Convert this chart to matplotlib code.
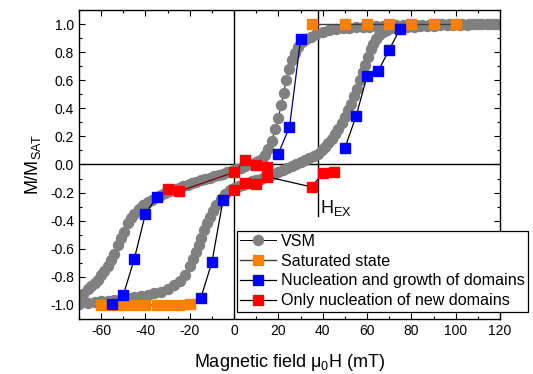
import matplotlib
matplotlib.use("Agg")
from matplotlib import pyplot as plt
from matplotlib.ticker import MultipleLocator

plt.rcParams['font.family'] = ['Liberation Sans', 'DejaVu Sans']
plt.rcParams['mathtext.fontset'] = 'custom'
plt.rcParams['mathtext.rm'] = 'Liberation Sans'
plt.rcParams['mathtext.it'] = 'Liberation Sans:italic'
plt.rcParams['axes.unicode_minus'] = False

# VSM loop, ascending branch (field swept from negative to positive)
vsm_up_x = [-70, -68, -66, -64.5, -63, -61.5, -60, -58.5, -57, -55.5, -54, -52.5, -51,
            -49.5, -48, -46.5, -45, -43, -41, -39, -37, -35, -33, -31, -29, -27, -25,
            -23, -21, -19, -17, -15, -13, -11, -9, -7, -5, -3, -1, 1, 3, 5, 7, 9, 11,
            12.5, 14, 15.5, 17, 18.5, 20, 21.2, 22.3, 23.6, 25, 26.3, 27.6, 29, 30.6,
            32.5, 34.5, 37, 40, 43, 46, 49, 52, 55, 58, 61, 64, 67, 70, 73, 76, 79, 82,
            85, 88, 91, 94, 97, 100, 103, 106, 109, 112, 115, 118, 120]
vsm_up_y = [-0.94, -0.92, -0.89, -0.865, -0.845, -0.82, -0.79, -0.755, -0.72, -0.68,
            -0.635, -0.57, -0.52, -0.48, -0.42, -0.38, -0.35, -0.32, -0.29, -0.27,
            -0.25, -0.235, -0.215, -0.2, -0.19, -0.178, -0.165, -0.155, -0.143,
            -0.133, -0.123, -0.113, -0.103, -0.094, -0.085, -0.075, -0.065, -0.055,
            -0.045, -0.035, -0.025, -0.012, 0.0, 0.012, 0.025, 0.04, 0.065, 0.11,
            0.17, 0.25, 0.33, 0.42, 0.51, 0.6, 0.68, 0.745, 0.795, 0.84, 0.87, 0.895,
            0.91, 0.93, 0.94, 0.955, 0.962, 0.97, 0.975, 0.978, 0.98, 0.982, 0.985,
            0.987, 0.988, 0.99, 0.99, 0.992, 0.993, 0.994, 0.995, 0.996, 0.997, 0.997,
            0.998, 0.998, 0.999, 0.999, 1.0, 1.0, 1.0, 1.0]

# VSM loop, descending branch (field swept from positive to negative)
vsm_down_x = [120, 117, 114, 111, 108, 105, 102, 99, 96, 93, 90, 87, 84, 81, 78, 75,
              72, 69, 67, 65.5, 64, 62.8, 61.6, 60.4, 59.2, 58, 56.8, 55.5, 54.2, 52.8,
              51.5, 50.1, 48.6, 47.1, 45.6, 44.1, 42.6, 41.1, 39.6, 38, 36, 34, 32, 30,
              28, 26, 24, 22, 20, 18, 16, 14, 12, 10, 8, 6, 4, 2, 0, -2, -4, -6, -8,
              -9.5, -11, -12.3, -13.5, -14.8, -16, -17.2, -18.5, -20, -22, -24.5, -27,
              -30, -33, -36, -39, -42, -45, -48, -51, -54, -57, -60, -63, -66, -70]
vsm_down_y = [1.0, 1.0, 0.999, 0.998, 0.997, 0.996, 0.995, 0.993, 0.991, 0.99, 0.988,
              0.986, 0.984, 0.982, 0.98, 0.976, 0.97, 0.96, 0.945, 0.92, 0.89, 0.86,
              0.82, 0.765, 0.71, 0.655, 0.6, 0.54, 0.485, 0.43, 0.385, 0.34, 0.295,
              0.255, 0.218, 0.185, 0.152, 0.125, 0.1, 0.078, 0.06, 0.045, 0.03, 0.015,
              0.002, -0.012, -0.026, -0.04, -0.053, -0.065, -0.078, -0.09, -0.1, -0.11,
              -0.12, -0.132, -0.143, -0.155, -0.17, -0.185, -0.21, -0.245, -0.29,
              -0.33, -0.375, -0.42, -0.47, -0.52, -0.57, -0.62, -0.675, -0.725, -0.785,
              -0.83, -0.86, -0.89, -0.905, -0.918, -0.928, -0.938, -0.945, -0.952,
              -0.958, -0.964, -0.97, -0.975, -0.98, -0.985, -0.99]

# Saturated state
sat_pos_x = [35, 50, 60, 70, 80, 90, 100]
sat_pos_y = [1.0, 1.0, 1.0, 1.0, 1.0, 1.0, 1.0]
sat_neg_x = [-60, -55, -50, -45, -40, -35, -30, -25, -20]
sat_neg_y = [-1.0, -1.0, -1.0, -1.0, -1.0, -1.0, -1.0, -1.0, -0.995]

# Nucleation and growth of domains
nuc1_x = [-55, -50, -45, -40, -35]
nuc1_y = [-0.99, -0.93, -0.67, -0.35, -0.235]
nuc2_x = [-15, -10, -5]
nuc2_y = [-0.95, -0.695, -0.254]
nuc3_x = [20, 25, 30]
nuc3_y = [0.078, 0.268, 0.89]
nuc4_x = [50, 55, 60, 65, 70, 75]
nuc4_y = [0.118, 0.342, 0.628, 0.664, 0.818, 0.968]

# Only nucleation of new domains
only1_x = [-30, -25, 0, 5, 10, 15]
only1_y = [-0.174, -0.192, -0.055, 0.03, -0.005, -0.02]
only2_x = [0, 5, 10, 15, 35, 40, 45]
only2_y = [-0.183, -0.133, -0.14, -0.088, -0.16, -0.064, -0.052]

h_ex = 38

gray = '#808080'
orange = '#FF8000'
blue = '#0000FF'
red = '#FF0000'

fig = plt.figure(figsize=(5.33, 3.74), dpi=100)
ax = fig.add_axes([0.1482, 0.1471, 0.7899, 0.8262])

# reference lines
ax.axhline(0, color='black', lw=1.0, zorder=1)
ax.axvline(0, color='black', lw=1.0, zorder=1)
ax.plot([h_ex, h_ex], [1.1, -0.37], color='black', lw=1.0, zorder=1)
ax.text(h_ex + 0.8, -0.31, r'H$_\mathregular{EX}$', fontsize=13, va='center', ha='left')

ms_c = 7.2
ms_s = 7.6
ax.plot(vsm_up_x, vsm_up_y, '-o', color='black', lw=0.7, ms=ms_c,
        mfc=gray, mec=gray, zorder=2, label='VSM')
ax.plot(vsm_down_x, vsm_down_y, '-o', color='black', lw=0.7, ms=ms_c,
        mfc=gray, mec=gray, zorder=2)

ax.plot(sat_pos_x, sat_pos_y, '-s', color='#404040', lw=1.0, ms=ms_s,
        mfc=orange, mec=orange, zorder=3, label='Saturated state')
ax.plot(sat_neg_x, sat_neg_y, '-s', color='#404040', lw=1.0, ms=ms_s,
        mfc=orange, mec=orange, zorder=3)

ax.plot(nuc1_x, nuc1_y, '-s', color='black', lw=0.9, ms=ms_s,
        mfc=blue, mec=blue, zorder=4, label='Nucleation and growth of domains')
ax.plot(nuc2_x, nuc2_y, '-s', color='black', lw=0.9, ms=ms_s,
        mfc=blue, mec=blue, zorder=4)
ax.plot(nuc3_x, nuc3_y, '-s', color='#000080', lw=0.9, ms=ms_s,
        mfc=blue, mec=blue, zorder=4)
ax.plot(nuc4_x, nuc4_y, '-s', color='black', lw=0.9, ms=ms_s,
        mfc=blue, mec=blue, zorder=4)

ax.plot(only1_x, only1_y, '-s', color='#800000', lw=0.9, ms=ms_s,
        mfc=red, mec=red, zorder=5)
ax.plot(only2_x, only2_y, '-s', color='black', lw=0.9, ms=ms_s,
        mfc=red, mec=red, zorder=5, label='Only nucleation of new domains')

ax.set_xlim(-70, 120)
ax.set_ylim(-1.1, 1.1)
ax.xaxis.set_major_locator(MultipleLocator(20))
ax.xaxis.set_minor_locator(MultipleLocator(10))
ax.yaxis.set_major_locator(MultipleLocator(0.2))
ax.yaxis.set_minor_locator(MultipleLocator(0.1))
ax.yaxis.set_major_formatter(plt.FormatStrFormatter('%.1f'))
ax.set_xticks([-60, -40, -20, 0, 20, 40, 60, 80, 100, 120])
ax.tick_params(which='both', direction='in', top=True, right=True, labelsize=10)
ax.tick_params(which='major', length=4.5, width=0.8)
ax.tick_params(which='minor', length=2.5, width=0.8)
for s in ax.spines.values():
    s.set_linewidth(1.0)

ax.set_xlabel(r'Magnetic field $\mathregular{μ_0}$H (mT)', fontsize=13, labelpad=10)
ax.set_ylabel(r'M/M$_\mathregular{SAT}$', fontsize=13, labelpad=5)

# legend box sticks out past the right spine, as in the original figure
leg = ax.legend(loc='upper left', bbox_to_anchor=(0.375, 0.286), fontsize=11.6,
                frameon=True, fancybox=False, edgecolor='black', framealpha=1,
                labelspacing=0.3, borderpad=0.2, handletextpad=0.35,
                handlelength=2.2, borderaxespad=0)
leg.get_frame().set_linewidth(0.9)

fig.savefig('out.png', dpi=100)
